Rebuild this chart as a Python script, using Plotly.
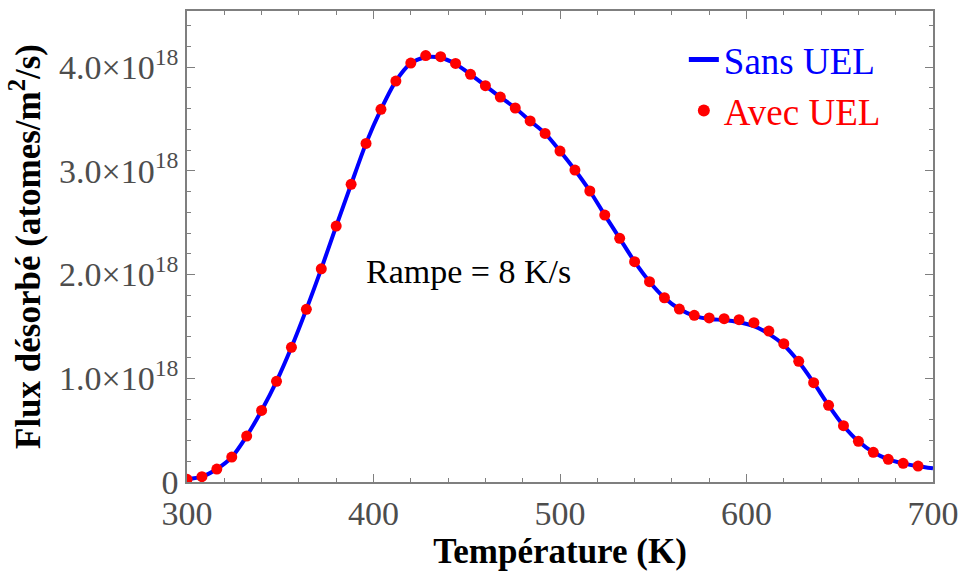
import numpy as np
import plotly.graph_objects as go

# Temperature grid (K)
temp_line = [300, 308, 316, 324, 332, 340, 348, 356, 364, 372, 380, 388, 396, 404, 412,
             420, 428, 436, 444, 452, 460, 468, 476, 484, 492, 500, 508, 516, 524, 532,
             540, 548, 556, 564, 572, 580, 588, 596, 604, 612, 620, 628, 636, 644, 652,
             660, 668, 676, 684, 692, 700]
# Sans UEL (units of 1e18 atomes/m^2/s)
flux_sans = [0.026, 0.051, 0.125, 0.24, 0.443, 0.69, 0.97, 1.298, 1.664, 2.055, 2.467,
             2.869, 3.264, 3.592, 3.865, 4.035, 4.095, 4.09, 4.03, 3.93, 3.82, 3.71, 3.605,
             3.48, 3.36, 3.19, 3.007, 2.805, 2.573, 2.349, 2.124, 1.931, 1.776, 1.667,
             1.602, 1.571, 1.561, 1.54, 1.502, 1.428, 1.32, 1.158, 0.957, 0.739, 0.543,
             0.392, 0.286, 0.219, 0.180, 0.152, 0.132]

temp_dots = [300, 308, 316, 324, 332, 340, 348, 356, 364, 372, 380, 388, 396, 404, 412,
             420, 428, 436, 444, 452, 460, 468, 476, 484, 492, 500, 508, 516, 524, 532,
             540, 548, 556, 564, 572, 580, 588, 596, 604, 612, 620, 628, 636, 644, 652,
             660, 668, 676, 684, 692]
# Avec UEL (units of 1e18 atomes/m^2/s)
flux_avec = [0.026, 0.051, 0.125, 0.24, 0.443, 0.69, 0.97, 1.298, 1.664, 2.055, 2.467,
             2.869, 3.264, 3.592, 3.865, 4.038, 4.11, 4.10, 4.035, 3.93, 3.82, 3.71, 3.605,
             3.48, 3.36, 3.19, 3.007, 2.805, 2.573, 2.349, 2.124, 1.931, 1.776, 1.667,
             1.607, 1.581, 1.574, 1.565, 1.536, 1.455, 1.333, 1.163, 0.957, 0.739, 0.543,
             0.392, 0.286, 0.219, 0.180, 0.154]

x_ticks = [300, 400, 500, 600, 700]
y_ticks = [0, 1e18, 2e18, 3e18, 4e18]
y_ticktext = ["0", "1.0×10<sup>18</sup>", "2.0×10<sup>18</sup>",
              "3.0×10<sup>18</sup>", "4.0×10<sup>18</sup>"]

SCALE = 1e18
FONT = "Liberation Serif, Times New Roman, serif"
GRAY = "#7f7f7f"
LABEL = "#4d4d4d"

fig = go.Figure()
fig.add_trace(go.Scatter(
    x=temp_line, y=[v * SCALE for v in flux_sans], mode="lines",
    line=dict(color="#0000ff", width=4, shape="spline", smoothing=0.8),
    name='<span style="color:#0000ff">Sans UEL</span>'))
fig.add_trace(go.Scatter(
    x=temp_dots, y=[v * SCALE for v in flux_avec], mode="markers",
    marker=dict(color="#ff0000", size=11),
    name='<span style="color:#ff0000">Avec UEL</span>'))

axis_common = dict(
    showline=True, linecolor=GRAY, linewidth=1.5, mirror="allticks",
    ticks="inside", ticklen=8, tickwidth=1.2, tickcolor=GRAY,
    showgrid=False, zeroline=False, automargin=False,
    tickfont=dict(family=FONT, size=34, color=LABEL),
)

fig.update_xaxes(
    range=[300, 700], tickvals=x_ticks,
    minor=dict(dtick=20, ticks="inside", ticklen=4, tickcolor=GRAY, tickwidth=1),
    title=dict(text="<b>Température (K)</b>", font=dict(family=FONT, size=35, color="black"),
               standoff=4),
    **axis_common)
fig.update_yaxes(
    range=[0, 4.54e18], tickvals=y_ticks, ticktext=y_ticktext,
    minor=dict(dtick=0.2e18, ticks="inside", ticklen=4, tickcolor=GRAY, tickwidth=1),
    title=dict(text="<b>Flux désorbé (atomes/m<sup>2</sup>/s)</b>",
               font=dict(family=FONT, size=35, color="black"), standoff=8),
    **axis_common)

fig.add_annotation(x=451, y=2.03e18, text="Rampe = 8 K/s", showarrow=False,
                   font=dict(family=FONT, size=34, color="black"))

fig.update_layout(
    width=962, height=576,
    margin=dict(l=187, r=29, t=11, b=94),
    paper_bgcolor="white", plot_bgcolor="white",
    showlegend=True,
    legend=dict(x=0.666, y=0.962, xanchor="left", yanchor="top",
                bgcolor="rgba(0,0,0,0)", font=dict(family=FONT, size=37),
                itemwidth=30, tracegroupgap=0, itemsizing="constant"),
)

fig.write_html("out.html",
               config={"displayModeBar": False},
               post_script="document.body.style.margin='0';document.body.style.overflow='hidden';")
